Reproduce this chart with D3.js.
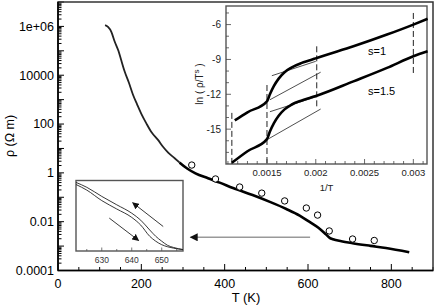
<!DOCTYPE html>
<html><head><meta charset="utf-8">
<script src="https://cdn.jsdelivr.net/npm/d3@7"></script>
<style>body{margin:0;background:#fff}svg{display:block;font-family:"Liberation Sans",Arial,sans-serif}</style>
</head><body><svg id="c" width="436" height="307"></svg>
<script>
// ---------- data ----------
// main: measured (thin) part, T (K) and log10(rho)
const measT   = [113,120,128,136,145,152,160,170,180,190,200,212,225,240,252,265,280,292];
const measLog = [6.05,5.98,5.78,5.38,5.0,4.6,4.15,3.7,3.2,2.8,2.42,2.03,1.65,1.35,1.07,0.82,0.6,0.42];
// main: smooth (thick) part
const fitT    = [292,310,330,360,388,420,467,510,548,580,603,625,643,652,660,680,707,750,787,843];
const fitLog  = [0.42,0.18,-0.02,-0.22,-0.40,-0.62,-0.91,-1.2,-1.48,-1.75,-2.0,-2.25,-2.52,-2.66,-2.72,-2.8,-2.88,-2.99,-3.08,-3.25];
// main: open circles
const circT   = [321,378,436,489,544,596,623,651,707,759];
const circLog = [0.32,-0.25,-0.58,-0.83,-1.15,-1.44,-1.73,-2.38,-2.71,-2.77];
const xTicks  = [0,200,400,600,800];
const yTickLabels = ["0.0001","0.01","1","100","10000","1e+06"];
const yTickVals   = [1e-4,1e-2,1,1e2,1e4,1e6];

// inset (hysteresis)
const hysT     = [621.4,625,630,635,640,643,646,648,650,652,654,657.1];
const hysUp    = [0.98,0.91,0.78,0.66,0.54,0.44,0.30,0.21,0.14,0.08,0.05,0.02];
const hysDown  = [0.95,0.87,0.72,0.60,0.48,0.37,0.21,0.14,0.09,0.06,0.04,0.02];
const hysTicks = [630,640,650];

// inset (ln(rho/T^s) vs 1/T)
const invT1 = [0.00117,0.0013,0.0015,0.00153,0.00157,0.00162,0.00168,0.00175,0.00185,0.00195,0.00201,0.002386,0.00273,0.0030,0.003146];
const s1    = [-14.25,-13.55,-12.6,-12.0,-11.3,-10.65,-10.1,-9.7,-9.32,-9.05,-8.87,-7.87,-6.86,-6.0,-5.5];
const invT2 = [0.00114,0.0013,0.0015,0.00153,0.00157,0.00162,0.00168,0.00175,0.00185,0.00195,0.00201,0.002386,0.00273,0.0030,0.003146];
const s15   = [-17.9,-16.9,-15.86,-15.2,-14.5,-13.85,-13.3,-12.9,-12.55,-12.28,-12.12,-10.89,-9.73,-8.73,-8.3];
const tangents = [ // [u1,L1,u2,L2]
  [0.00155,-10.4,0.0020,-9.16],
  [0.00153,-12.47,0.00205,-10.1],
  [0.00153,-13.5,0.00201,-12.2],
  [0.00151,-15.86,0.00205,-13.27]];
const vlines = [ // [u, Ltop]
  [0.00114,-13.6],[0.0015,-11.2],[0.00201,-7.87],[0.0030,-5.0]];
const invTicks = [0.0015,0.002,0.0025,0.003];
const invTickLabels = ["0.0015","0.002","0.0025","0.003"];
const lnTicks = [-15,-12,-9,-6];

// ---------- drawing ----------
const svg = d3.select("#c");
const x = d3.scaleLinear().domain([0,900]).range([58,433]);
const y = d3.scaleLog().domain([1e-4,1e7]).range([270.5,2]);

// ticks (inside)
const minorX = d3.range(0,901,50);
svg.append("g").selectAll("line").data(minorX).join("line")
  .attr("x1",d=>x(d)).attr("x2",d=>x(d)).attr("y1",270.5)
  .attr("y2",d=>d%200===0?264:267).attr("stroke","#000").attr("stroke-width",1);
const yMinor=[];
for(let e=-4;e<7;e++) for(let k=1;k<10;k++) yMinor.push([k*Math.pow(10,e),k===1]);
yMinor.push([1e7,true]);
svg.append("g").selectAll("line").data(yMinor).join("line")
  .attr("x1",58).attr("x2",d=>58+(d[1]?6:3.5))
  .attr("y1",d=>y(d[0])).attr("y2",d=>y(d[0])).attr("stroke","#000").attr("stroke-width",1);

// frame
svg.append("rect").attr("x",58).attr("y",2).attr("width",375).attr("height",268.5)
  .attr("fill","none").attr("stroke","#333").attr("stroke-width",1.5);
svg.append("line").attr("x1",58).attr("x2",58).attr("y1",2).attr("y2",270.5).attr("stroke","#000").attr("stroke-width",1.6);
svg.append("line").attr("x1",58).attr("x2",433).attr("y1",270.5).attr("y2",270.5).attr("stroke","#000").attr("stroke-width",1.6);

// tick labels
svg.append("g").selectAll("text").data(xTicks).join("text")
  .attr("x",d=>x(d)).attr("y",288).attr("text-anchor","middle").attr("font-size",12.5).text(d=>d);
svg.append("g").selectAll("text").data(yTickVals).join("text")
  .attr("x",54).attr("y",d=>y(d)+4.3).attr("text-anchor","end").attr("font-size",12.5)
  .text((d,i)=>yTickLabels[i]);
svg.append("text").attr("x",246).attr("y",302).attr("text-anchor","middle").attr("font-size",13).text("T (K)");
svg.append("text").attr("transform","translate(14,136) rotate(-90)").attr("text-anchor","middle")
  .attr("font-size",12.5).text("ρ  (Ω m)");

// curves
const line = d3.line().x(d=>x(d[0])).y(d=>y(Math.pow(10,d[1]))).curve(d3.curveMonotoneX);
svg.append("path").attr("d",line(measT.map((t,i)=>[t,measLog[i]])))
  .attr("fill","none").attr("stroke","#222").attr("stroke-width",1.8);
svg.append("path").attr("d",line(fitT.map((t,i)=>[t,fitLog[i]])))
  .attr("fill","none").attr("stroke","#000").attr("stroke-width",2.6);
svg.append("g").selectAll("circle").data(circT).join("circle")
  .attr("cx",d=>x(d)).attr("cy",(d,i)=>y(Math.pow(10,circLog[i]))).attr("r",3.2)
  .attr("fill","#fff").attr("stroke","#000").attr("stroke-width",1);

// gray arrow
const defs = svg.append("defs");
defs.append("marker").attr("id","ah").attr("viewBox","0 0 10 10").attr("refX",9).attr("refY",5)
  .attr("markerWidth",7).attr("markerHeight",7).attr("markerUnits","userSpaceOnUse").attr("orient","auto")
  .append("path").attr("d","M0,0L10,5L0,10z").attr("fill","#111");
defs.append("marker").attr("id","ah2").attr("viewBox","0 0 10 10").attr("refX",9).attr("refY",5)
  .attr("markerWidth",10).attr("markerHeight",8).attr("markerUnits","userSpaceOnUse").attr("orient","auto")
  .append("path").attr("d","M0,0L10,5L0,10z").attr("fill","#111");
svg.append("line").attr("x1",x(605)).attr("y1",237.3).attr("x2",x(318)).attr("y2",237.3)
  .attr("stroke","#999").attr("stroke-width",1.6).attr("marker-end","url(#ah2)");

// ---------- inset 1: hysteresis ----------
const hx = d3.scaleLinear().domain([621.4,657.1]).range([76,183]);
const hy = d3.scaleLinear().domain([0,1]).range([251,181]);
svg.append("rect").attr("x",76).attr("y",180.5).attr("width",107).attr("height",70.5)
  .attr("fill","#fff").attr("stroke","#555").attr("stroke-width",1.4);
svg.append("g").selectAll("line").data(d3.range(625,656,5)).join("line")
  .attr("x1",d=>hx(d)).attr("x2",d=>hx(d)).attr("y1",251).attr("y2",d=>d%10===0?247.5:249)
  .attr("stroke","#555").attr("stroke-width",0.8);
svg.append("g").selectAll("text").data(hysTicks).join("text")
  .attr("x",d=>hx(d)).attr("y",263).attr("text-anchor","middle").attr("font-size",8.5).attr("fill","#333").text(d=>d);
const hl = d3.line().x(d=>hx(d[0])).y(d=>hy(d[1])).curve(d3.curveMonotoneX);
[hysUp,hysDown].forEach(s=>{
  svg.append("path").attr("d",hl(hysT.map((t,i)=>[t,s[i]])))
    .attr("fill","none").attr("stroke","#222").attr("stroke-width",0.9);
});
svg.append("line").attr("x1",hx(650.5)).attr("y1",hy(0.35)).attr("x2",hx(640.3)).attr("y2",hy(0.69))
  .attr("stroke","#222").attr("stroke-width",0.9).attr("marker-end","url(#ah)");
svg.append("line").attr("x1",hx(632.5)).attr("y1",hy(0.47)).attr("x2",hx(642.3)).attr("y2",hy(0.15))
  .attr("stroke","#222").attr("stroke-width",0.9).attr("marker-end","url(#ah)");

// ---------- inset 2 ----------
const ix = d3.scaleLinear().domain([0.00108,0.00314]).range([226,427]);
const iy = d3.scaleLinear().domain([-18,-4.4]).range([164,6]);
svg.append("rect").attr("x",226).attr("y",6).attr("width",201).attr("height",158)
  .attr("fill","#fff").attr("stroke","#555").attr("stroke-width",1.4);
const iMinor = d3.range(11,32).map(v=>v/10000);
svg.append("g").selectAll("line").data(iMinor).join("line")
  .attr("x1",d=>ix(d)).attr("x2",d=>ix(d)).attr("y1",164)
  .attr("y2",d=>Math.round(d*10000)%5===0?159:161).attr("stroke","#444").attr("stroke-width",0.8);
svg.append("g").selectAll("line").data(d3.range(-17,-4)).join("line")
  .attr("x1",226).attr("x2",d=>d%3===0?231:229).attr("y1",d=>iy(d)).attr("y2",d=>iy(d))
  .attr("stroke","#444").attr("stroke-width",0.8);
svg.append("g").selectAll("text").data(invTicks).join("text")
  .attr("x",d=>ix(d)).attr("y",176).attr("text-anchor","middle").attr("font-size",9.5).attr("fill","#222")
  .text((d,i)=>invTickLabels[i]);
svg.append("g").selectAll("text").data(lnTicks).join("text")
  .attr("x",221).attr("y",d=>iy(d)+3.5).attr("text-anchor","end").attr("font-size",10).attr("fill","#222").text(d=>d);
svg.append("text").attr("x",326.5).attr("y",191).attr("text-anchor","middle").attr("font-size",9.5).attr("fill","#222").text("1/T");
const yl = svg.append("text").attr("transform","translate(203,84) rotate(-90)").attr("text-anchor","middle")
  .attr("font-size",10).attr("fill","#222");
yl.append("tspan").text("ln ( ρ/T");
yl.append("tspan").attr("dy",-4).attr("font-size",8).text("s");
yl.append("tspan").attr("dy",4).text(" )");

// dashed vlines
svg.append("g").selectAll("line").data(vlines).join("line")
  .attr("x1",d=>ix(d[0])).attr("x2",d=>ix(d[0])).attr("y1",d=>iy(d[1]))
  .attr("y2",(d,i)=>i<2?164:iy(d[1]-5.4))
  .attr("stroke","#222").attr("stroke-width",1).attr("stroke-dasharray","6,3");
// tangents
svg.append("g").selectAll("line").data(tangents).join("line")
  .attr("x1",d=>ix(d[0])).attr("y1",d=>iy(d[1])).attr("x2",d=>ix(d[2])).attr("y2",d=>iy(d[3]))
  .attr("stroke","#222").attr("stroke-width",0.8);
const il = d3.line().x(d=>ix(d[0])).y(d=>iy(d[1])).curve(d3.curveMonotoneX);
svg.append("path").attr("d",il(invT1.map((u,i)=>[u,s1[i]])))
  .attr("fill","none").attr("stroke","#000").attr("stroke-width",2.6);
svg.append("path").attr("d",il(invT2.map((u,i)=>[u,s15[i]])))
  .attr("fill","none").attr("stroke","#000").attr("stroke-width",2.6);
svg.append("text").attr("x",368).attr("y",55).attr("font-size",11).text("s=1");
svg.append("text").attr("x",368).attr("y",95).attr("font-size",11).text("s=1.5");
</script></body></html>
